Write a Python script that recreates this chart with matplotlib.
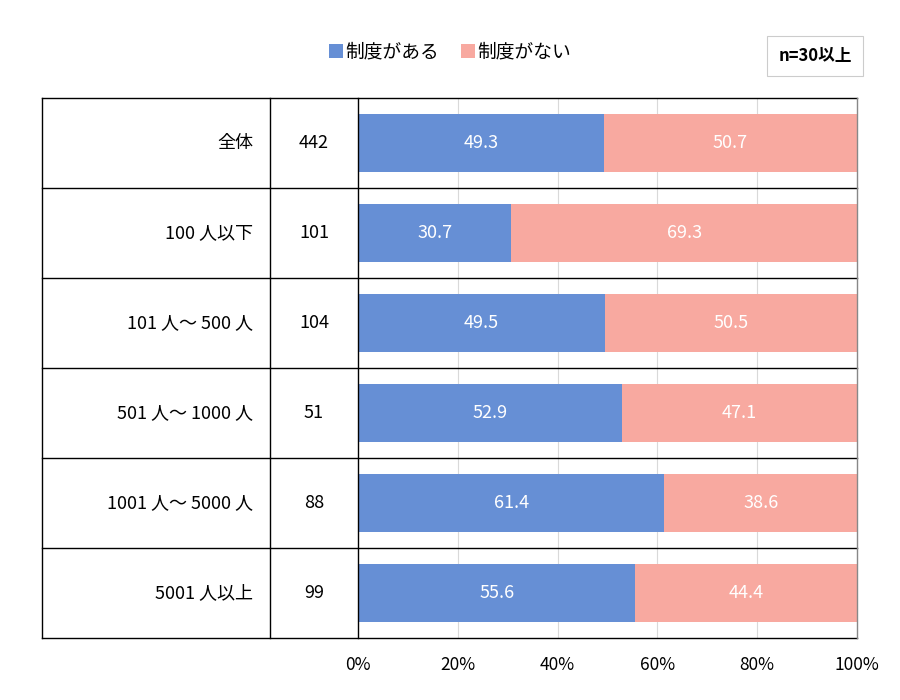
import matplotlib

matplotlib.use("Agg")
import matplotlib.pyplot as plt
import numpy as np

plt.rcParams["font.family"] = ["Noto Sans CJK JP", "DejaVu Sans"]

categories = ["全体", "100 人以下", "101 人～ 500 人", "501 人～ 1000 人",
              "1001 人～ 5000 人", "5001 人以上"]
counts = [442, 101, 104, 51, 88, 99]
has_system = [49.3, 30.7, 49.5, 52.9, 61.4, 55.6]
no_system = [50.7, 69.3, 50.5, 47.1, 38.6, 44.4]
series_names = ["制度がある", "制度がない"]
ticks = [0, 20, 40, 60, 80, 100]

BLUE = "#668fd5"
PINK = "#f8a9a0"

W, H = 900, 700
fig = plt.figure(figsize=(9, 7), dpi=100)
x0, x1, y0, y1 = 358, 857, 98, 638
ax = fig.add_axes([x0 / W, 1 - y1 / H, (x1 - x0) / W, (y1 - y0) / H])

n = len(categories)
y = np.arange(n)[::-1] + 0.5
ax.set_xlim(0, 100)
ax.set_ylim(0, n)

ax.barh(y, has_system, height=0.64, color=BLUE, zorder=3, label=series_names[0])
ax.barh(y, no_system, left=has_system, height=0.64, color=PINK, zorder=3,
        label=series_names[1])

for yi, a, b in zip(y, has_system, no_system):
    ax.text(a / 2, yi, f"{a:.1f}", color="white", ha="center", va="center",
            fontsize=13, zorder=4)
    ax.text(a + b / 2, yi, f"{b:.1f}", color="white", ha="center", va="center",
            fontsize=13, zorder=4)

# px -> data x
def dx(px):
    return (px - x0) / (x1 - x0) * 100

xl, xc = dx(42), dx(270)
for yi, cat, c in zip(y, categories, counts):
    ax.text(dx(253), yi, cat, ha="right", va="center", fontsize=13)
    ax.text(dx(314), yi, str(c), ha="center", va="center", fontsize=13)

# table lines
for k in range(n + 1):
    ax.plot([xl, 100], [k, k], color="black", lw=1.0, clip_on=False, zorder=5)
for xv in (xl, xc, 0):
    ax.plot([xv, xv], [0, n], color="black", lw=1.0, clip_on=False, zorder=5)
ax.plot([100, 100], [0, n], color="#888888", lw=1.0, clip_on=False, zorder=5)

for t in ticks[1:-1]:
    ax.axvline(t, color="#d9d9d9", lw=0.8, zorder=1)

for s in ax.spines.values():
    s.set_visible(False)
ax.set_yticks([])
ax.set_xticks(ticks)
ax.set_xticklabels([f"{t}%" for t in ticks], fontsize=12.5)
ax.tick_params(axis="x", length=0, pad=13)

fig.legend(loc="center", bbox_to_anchor=(450 / W, 1 - 52 / H), ncol=2,
           frameon=False, fontsize=13.5, handlelength=0.75, handleheight=0.75,
           handletextpad=0.1, columnspacing=1.2)

fig.text(815 / W, 1 - 56 / H, "n=30以上", ha="center", va="center",
         fontsize=12, fontweight="bold",
         bbox=dict(boxstyle="square,pad=0.65", fc="white", ec="#cccccc", lw=0.8))

fig.savefig("out.png", dpi=100)
